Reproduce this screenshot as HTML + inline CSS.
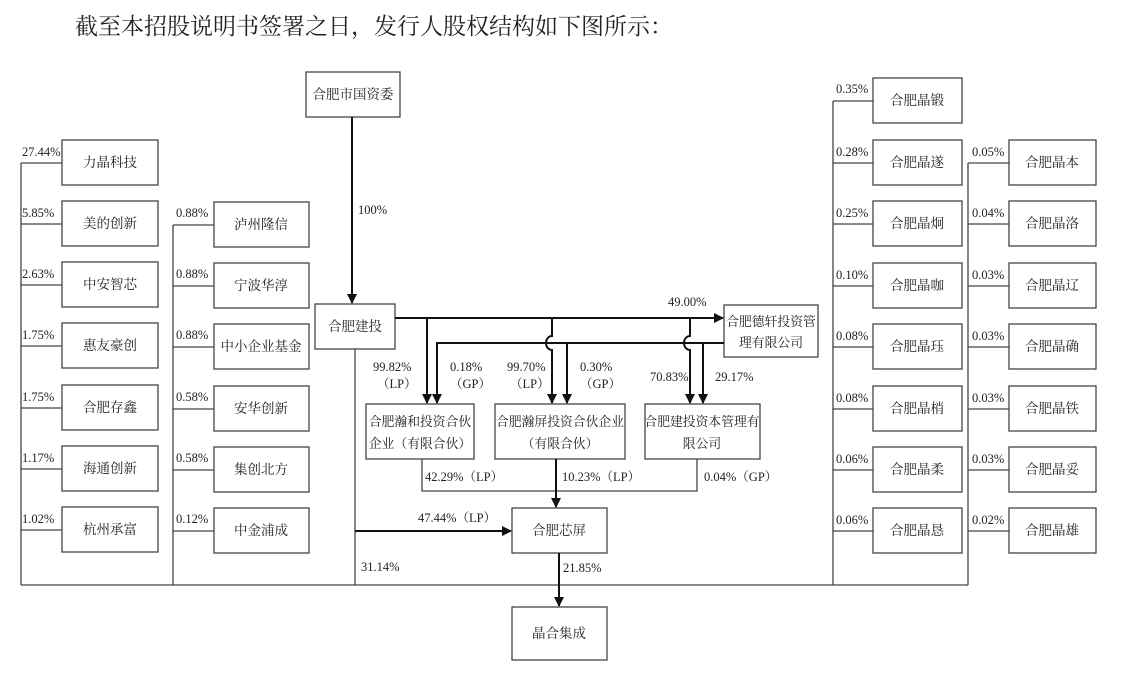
<!DOCTYPE html>
<html><head><meta charset="utf-8"><style>
html,body{margin:0;padding:0;background:#fff;width:1121px;height:681px;overflow:hidden}
svg{display:block}
text{font-family:"Liberation Serif","Noto Serif CJK SC",serif;fill:#222}
.b{fill:#fff;stroke:#444;stroke-width:1.3}
.l{stroke:#444;stroke-width:1.3;fill:none}
.a{stroke:#111;stroke-width:2;fill:none}
.n{font-size:13.5px;text-anchor:middle}
.s{font-size:12.8px;text-anchor:middle}
.p{font-size:12.5px}
</style></head><body>
<svg width="1121" height="681" viewBox="0 0 1121 681">
<defs><marker id="ar" markerWidth="10" markerHeight="10" refX="9" refY="5" orient="auto" markerUnits="userSpaceOnUse"><path d="M0,0 L10,5 L0,10 z" fill="#111"/></marker></defs>
<text x="75" y="34" style="font-size:23px;font-family:'Noto Serif CJK SC',serif">截至本招股说明书签署之日，发行人股权结构如下图所示：</text>

<path class="l" d="M21,585 H968"/>
<path class="l" d="M21,163 V585"/>
<g>
<path class="l" d="M21,163H62M21,224H62M21,285H62M21,346H62M21,408H62M21,469H62M21,530H62"/>
<rect class="b" x="62" y="140" width="96" height="45"/><text class="n" x="110" y="167">力晶科技</text><text class="p" x="22" y="156">27.44%</text>
<rect class="b" x="62" y="201" width="96" height="45"/><text class="n" x="110" y="228">美的创新</text><text class="p" x="22" y="217">5.85%</text>
<rect class="b" x="62" y="262" width="96" height="45"/><text class="n" x="110" y="289">中安智芯</text><text class="p" x="22" y="278">2.63%</text>
<rect class="b" x="62" y="323" width="96" height="45"/><text class="n" x="110" y="350">惠友豪创</text><text class="p" x="22" y="339">1.75%</text>
<rect class="b" x="62" y="385" width="96" height="45"/><text class="n" x="110" y="412">合肥存鑫</text><text class="p" x="22" y="401">1.75%</text>
<rect class="b" x="62" y="446" width="96" height="45"/><text class="n" x="110" y="473">海通创新</text><text class="p" x="22" y="462">1.17%</text>
<rect class="b" x="62" y="507" width="96" height="45"/><text class="n" x="110" y="534">杭州承富</text><text class="p" x="22" y="523">1.02%</text>
</g>
<path class="l" d="M173,225 V585 M173,225H214M173,286H214M173,347H214M173,409H214M173,470H214M173,531H214"/>
<rect class="b" x="214" y="202" width="95" height="45"/><text class="n" x="261" y="229">泸州隆信</text><text class="p" x="176" y="217">0.88%</text>
<rect class="b" x="214" y="263" width="95" height="45"/><text class="n" x="261" y="290">宁波华淳</text><text class="p" x="176" y="278">0.88%</text>
<rect class="b" x="214" y="324" width="95" height="45"/><text class="n" x="261" y="351">中小企业基金</text><text class="p" x="176" y="339">0.88%</text>
<rect class="b" x="214" y="386" width="95" height="45"/><text class="n" x="261" y="413">安华创新</text><text class="p" x="176" y="401">0.58%</text>
<rect class="b" x="214" y="447" width="95" height="45"/><text class="n" x="261" y="474">集创北方</text><text class="p" x="176" y="462">0.58%</text>
<rect class="b" x="214" y="508" width="95" height="45"/><text class="n" x="261" y="535">中金浦成</text><text class="p" x="176" y="523">0.12%</text>

<path class="l" d="M833,101 V585 M833,101H873M833,163H873M833,224H873M833,286H873M833,347H873M833,409H873M833,470H873M833,531H873"/>
<rect class="b" x="873" y="78" width="89" height="45"/><text class="n" x="917" y="105">合肥晶锻</text><text class="p" x="836" y="93">0.35%</text>
<rect class="b" x="873" y="140" width="89" height="45"/><text class="n" x="917" y="167">合肥晶遂</text><text class="p" x="836" y="156">0.28%</text>
<rect class="b" x="873" y="201" width="89" height="45"/><text class="n" x="917" y="228">合肥晶炯</text><text class="p" x="836" y="217">0.25%</text>
<rect class="b" x="873" y="263" width="89" height="45"/><text class="n" x="917" y="290">合肥晶咖</text><text class="p" x="836" y="279">0.10%</text>
<rect class="b" x="873" y="324" width="89" height="45"/><text class="n" x="917" y="351">合肥晶珏</text><text class="p" x="836" y="340">0.08%</text>
<rect class="b" x="873" y="386" width="89" height="45"/><text class="n" x="917" y="413">合肥晶梢</text><text class="p" x="836" y="402">0.08%</text>
<rect class="b" x="873" y="447" width="89" height="45"/><text class="n" x="917" y="474">合肥晶柔</text><text class="p" x="836" y="463">0.06%</text>
<rect class="b" x="873" y="508" width="89" height="45"/><text class="n" x="917" y="535">合肥晶恳</text><text class="p" x="836" y="524">0.06%</text>

<path class="l" d="M968,163 V585 M968,163H1009M968,224H1009M968,286H1009M968,347H1009M968,409H1009M968,470H1009M968,531H1009"/>
<rect class="b" x="1009" y="140" width="87" height="45"/><text class="n" x="1052" y="167">合肥晶本</text><text class="p" x="972" y="156">0.05%</text>
<rect class="b" x="1009" y="201" width="87" height="45"/><text class="n" x="1052" y="228">合肥晶洛</text><text class="p" x="972" y="217">0.04%</text>
<rect class="b" x="1009" y="263" width="87" height="45"/><text class="n" x="1052" y="290">合肥晶辽</text><text class="p" x="972" y="279">0.03%</text>
<rect class="b" x="1009" y="324" width="87" height="45"/><text class="n" x="1052" y="351">合肥晶确</text><text class="p" x="972" y="340">0.03%</text>
<rect class="b" x="1009" y="386" width="87" height="45"/><text class="n" x="1052" y="413">合肥晶铁</text><text class="p" x="972" y="402">0.03%</text>
<rect class="b" x="1009" y="447" width="87" height="45"/><text class="n" x="1052" y="474">合肥晶妥</text><text class="p" x="972" y="463">0.03%</text>
<rect class="b" x="1009" y="508" width="87" height="45"/><text class="n" x="1052" y="535">合肥晶雄</text><text class="p" x="972" y="524">0.02%</text>

<rect class="b" x="306" y="72" width="94" height="45"/><text class="n" x="353" y="99">合肥市国资委</text>
<path class="a" d="M352,117 V303" marker-end="url(#ar)"/><text class="p" x="358" y="214">100%</text>
<rect class="b" x="315" y="304" width="80" height="45"/><text class="n" x="355" y="331">合肥建投</text>
<path class="l" d="M355,349 V585"/><text class="p" x="361" y="571">31.14%</text>
<path class="a" d="M355,531 H511" marker-end="url(#ar)"/><text class="p" x="418" y="522">47.44%（LP）</text>

<path class="a" d="M395,318 H723" marker-end="url(#ar)"/><text class="p" x="668" y="306">49.00%</text>
<rect class="b" x="724" y="305" width="94" height="52"/><text class="s" x="771" y="326">合肥德轩投资管</text><text class="s" x="771" y="347">理有限公司</text>
<path class="a" d="M724,343 H437 V403" marker-end="url(#ar)"/>
<path class="a" d="M567,343 V403" marker-end="url(#ar)"/>
<path class="a" d="M703,343 V403" marker-end="url(#ar)"/>
<path class="a" d="M427,318 V403" marker-end="url(#ar)"/>
<path class="a" d="M552,318 V336 A6,7 0 0 0 552,350 V403" marker-end="url(#ar)"/>
<path class="a" d="M690,318 V336 A6,7 0 0 0 690,350 V403" marker-end="url(#ar)"/>
<text class="p" x="373" y="371">99.82%</text><text class="p" x="377" y="388">（LP）</text>
<text class="p" x="450" y="371">0.18%</text><text class="p" x="450" y="388">（GP）</text>
<text class="p" x="507" y="371">99.70%</text><text class="p" x="510" y="388">（LP）</text>
<text class="p" x="580" y="371">0.30%</text><text class="p" x="580" y="388">（GP）</text>
<text class="p" x="650" y="381">70.83%</text><text class="p" x="715" y="381">29.17%</text>

<rect class="b" x="366" y="404" width="108" height="55"/><text class="s" x="420" y="426">合肥瀚和投资合伙</text><text class="s" x="420" y="448">企业（有限合伙）</text>
<rect class="b" x="495" y="404" width="130" height="55"/><text class="s" x="560" y="426">合肥瀚屏投资合伙企业</text><text class="s" x="560" y="448">（有限合伙）</text>
<rect class="b" x="645" y="404" width="115" height="55"/><text class="s" x="702" y="426">合肥建投资本管理有</text><text class="s" x="702" y="448">限公司</text>

<path class="l" d="M422,459 V491 H697 V459"/>
<path class="a" d="M556,459 V507" marker-end="url(#ar)"/>
<text class="p" x="425" y="481">42.29%（LP）</text>
<text class="p" x="562" y="481">10.23%（LP）</text>
<text class="p" x="704" y="481">0.04%（GP）</text>

<rect class="b" x="512" y="508" width="95" height="45"/><text class="n" x="559" y="535">合肥芯屏</text>
<path class="a" d="M559,553 V606" marker-end="url(#ar)"/><text class="p" x="563" y="572">21.85%</text>
<rect class="b" x="512" y="607" width="95" height="53"/><text class="n" x="559" y="638">晶合集成</text>
</svg>
</body></html>
